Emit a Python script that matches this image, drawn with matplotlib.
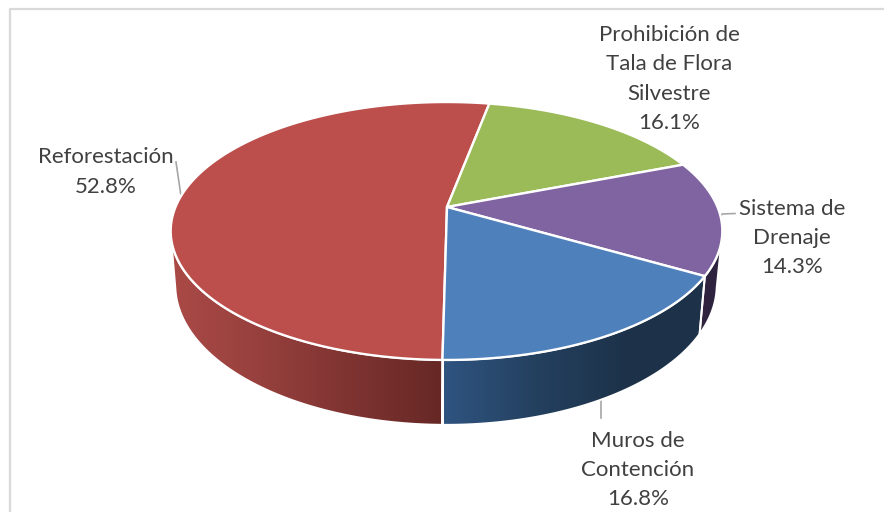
import matplotlib
matplotlib.use('Agg')
import matplotlib.pyplot as plt
import numpy as np
from matplotlib.patches import Polygon
from matplotlib.colors import LinearSegmentedColormap

plt.rcParams['font.family'] = ['Lato', 'DejaVu Sans']

labels = ['Reforestación', 'Prohibición de\nTala de Flora\nSilvestre', 'Sistema de\nDrenaje', 'Muros de\nContención']
values = [52.8, 16.1, 14.3, 16.8]
top_colors = ['#BC4F4C', '#9BBB59', '#8063A1', '#4E80BC']

start_angle = -90.7
text_color = '#404040'
line_color = '#A6A6A6'


# circle angle to picture pixels, with a bit of perspective
def rim(theta, x0, y0, a, b, k=0.186):
    t = np.radians(theta)
    w = 1 + k*np.sin(t)
    return x0 + a*np.cos(t)/w, y0 - b*np.sin(t)/w


def top_rim(theta):
    return rim(theta, 446.5, 207, 271, 124.5)


def low_rim(theta):
    return rim(theta, 446, 259, 266, 135)


fig = plt.figure(figsize=(8.84, 5.12), dpi=100)
ax = fig.add_axes([0, 0, 1, 1])
ax.set_xlim(0, 884)
ax.set_ylim(512, 0)
ax.axis('off')

# chart frame, only left and top are inside the crop
ax.plot([9.5, 9.5, 884], [512, 8.5, 8.5], color='#D9D9D9', lw=1.6, zorder=1)

# leader lines
ax.plot([176, 181], [162, 196], color=line_color, lw=1.2, zorder=2)
ax.plot([735, 722, 720], [213.5, 214, 217], color=line_color, lw=1.2, zorder=2)
ax.plot([601, 601], [395, 418], color=line_color, lw=1.2, zorder=2)

# slice edges, clockwise from the bottom
angles = start_angle - np.cumsum([0] + values)*3.6


def side(t0, t1, cmap_colors, x_range):
    th = np.linspace(t0, t1, 80)
    xt, yt = top_rim(th)
    xb, yb = low_rim(th)
    pts = np.column_stack([np.r_[xt, xb[::-1]], np.r_[yt, yb[::-1]]])
    cmap = LinearSegmentedColormap.from_list('s', cmap_colors)
    im = ax.imshow(np.linspace(0, 1, 256).reshape(1, -1), cmap=cmap, aspect='auto',
                   extent=[x_range[0], x_range[1], 512, 0], zorder=3)
    poly = Polygon(pts, closed=True, facecolor='none', edgecolor='none', transform=ax.transData)
    ax.add_patch(poly)
    im.set_clip_path(poly)
    ax.add_patch(Polygon(pts, closed=True, fill=False, edgecolor='white', lw=1.4, zorder=4))


side(angles[0], -168, ['#AB4A47', '#96403D', '#7E3331', '#662825'], (170, 444))
side(angles[3], angles[4], ['#2F5480', '#24405F', '#1D3249', '#1D3249'], (444, 720))
side(angles[3], -372, ['#30243F', '#2E2340'], (690, 725))
ax.set_xlim(0, 884)
ax.set_ylim(512, 0)

# top face
for i in range(len(values)):
    th = np.linspace(angles[i], angles[i+1], 150)
    x, y = top_rim(th)
    pts = np.column_stack([np.r_[447, x], np.r_[207, y]])
    ax.add_patch(Polygon(pts, closed=True, facecolor=top_colors[i], edgecolor='white', lw=1.7, zorder=5, joinstyle='round'))

# labels
kw = dict(ha='center', va='center', color=text_color, fontsize=16, linespacing=1.58, zorder=6)
ax.text(105.5, 172, labels[0] + '\n%.1f%%' % values[0], **kw)
ax.text(669, 79, labels[1] + '\n%.1f%%' % values[1], **kw)
ax.text(792, 238, labels[2] + '\n%.1f%%' % values[2], **kw)
ax.text(638, 470, labels[3] + '\n%.1f%%' % values[3], **kw)

fig.savefig('out.png', dpi=100)
